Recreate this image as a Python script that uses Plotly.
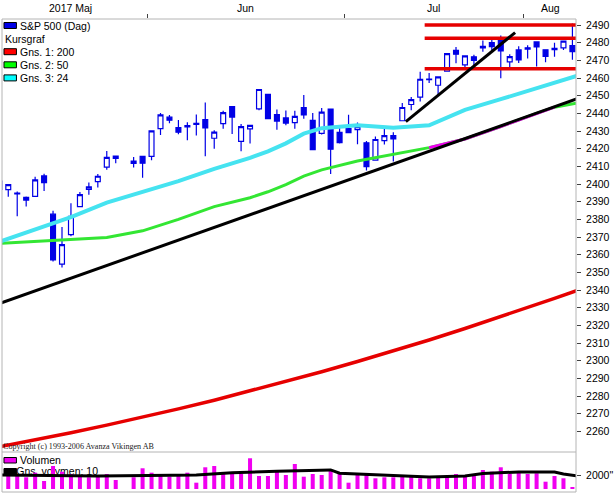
import pandas as pd
import plotly.graph_objects as go

# 交易日（7月4日休市不占位，5月29日占位但没有数据）
dates = pd.bdate_range("2017-05-09", "2017-08-08").drop(pd.Timestamp("2017-07-04"))
day = list(range(len(dates)))

# S&P 500 日K线
open_ = [2401.6, 2396.8, 2394.8, 2392.4, 2393.0, 2404.6, 2382.9, 2354.7, 2371.4, 2387.2, 2397.0, 2401.4, 2409.5, 2414.5, None, 2411.7, 2415.6,
         2415.6, 2431.3, 2437.8, 2431.9, 2432.3, 2434.3, 2436.4, 2425.9, 2434.2, 2443.8, 2424.1, 2431.2, 2442.5, 2450.7, 2439.3, 2437.4, 2434.7, 2443.3, 2436.0, 2428.7, 2442.4, 2429.2,
         2431.4, 2430.8, 2423.3, 2413.5, 2424.5, 2427.4, 2435.8, 2445.0, 2449.2, 2459.4, 2455.9, 2463.9, 2475.6, 2467.4, 2472.0, 2477.9, 2480.0, 2482.8, 2469.1, 2475.9,
         2477.1, 2480.4, 2476.0, 2476.1, 2477.1, 2478.4]
high = [2403.9, 2399.7, 2395.7, 2392.9, 2404.1, 2405.8, 2384.9, 2375.7, 2389.1, 2395.5, 2400.9, 2405.6, 2418.7, 2416.0, None, 2415.3, 2416.0,
        2430.1, 2440.2, 2439.0, 2436.2, 2435.0, 2439.3, 2446.2, 2430.4, 2441.5, 2443.8, 2434.0, 2433.2, 2453.8, 2450.7, 2442.2, 2441.6, 2441.4, 2450.4, 2440.2, 2443.0, 2442.7, 2432.7,
        2439.2, 2434.8, 2424.3, 2426.9, 2432.0, 2429.3, 2445.8, 2449.3, 2463.5, 2462.8, 2460.9, 2473.8, 2477.6, 2472.5, 2473.1, 2481.2, 2481.7, 2484.0, 2473.5, 2478.0,
        2478.5, 2480.4, 2476.0, 2480.0, 2481.0, 2490.9]
low = [2392.4, 2392.8, 2381.7, 2387.2, 2393.0, 2396.1, 2356.2, 2352.7, 2370.4, 2386.9, 2393.9, 2398.0, 2408.0, 2411.7, None, 2409.4, 2403.6,
       2413.5, 2427.7, 2434.4, 2428.1, 2424.8, 2427.4, 2415.7, 2420.0, 2431.3, 2428.3, 2418.5, 2422.9, 2441.8, 2436.6, 2430.7, 2433.3, 2431.3, 2437.0, 2419.4, 2428.0, 2405.7, 2422.9,
       2428.7, 2422.5, 2407.7, 2413.5, 2422.3, 2412.8, 2435.8, 2441.7, 2446.7, 2457.2, 2450.3, 2463.9, 2468.4, 2465.1, 2466.3, 2474.9, 2474.9, 2459.9, 2464.7, 2468.5,
       2471.1, 2466.5, 2468.9, 2472.1, 2475.9, 2470.3]
close = [2396.9, 2399.6, 2394.4, 2390.9, 2402.3, 2400.7, 2357.0, 2365.7, 2381.7, 2394.0, 2398.4, 2404.4, 2415.1, 2415.8, None, 2412.9, 2411.8,
         2430.1, 2439.1, 2436.1, 2429.3, 2433.1, 2433.8, 2431.8, 2429.4, 2440.4, 2437.9, 2432.5, 2433.2, 2453.5, 2437.0, 2435.6, 2434.5, 2438.3, 2439.1, 2419.4, 2440.7, 2419.7, 2423.4,
         2429.0, 2432.5, 2409.8, 2425.2, 2427.4, 2425.5, 2443.3, 2447.8, 2459.3, 2459.1, 2460.6, 2473.8, 2473.5, 2472.5, 2469.9, 2477.1, 2477.8, 2475.4, 2472.1, 2470.3,
         2476.4, 2477.6, 2472.2, 2476.8, 2480.9, 2474.9]
volume = [2145, 2145, 2145, 1673, 2331, 1144, 3289, 2474, 2145, 1759, 1673, 1759, 2145, 1287, None, 1673, 2960,
          2331, 2145, 1759, 2002, 2331, 901, 3103, 3289, 2331, 2331, 2145, 4390, 1859, 1859, 2474, 2002, 3575, 1759, 2145, 2002, 2717, 2145,
          901, 2145, 2145, 1530, 1673, 1673, 1859, 1859, 1530, 1530, 1673, 1859, 2145, 2002, 2145, 2717, 2474, 3103, 2145, 2474,
          2145, 2245, 1044, 1859, 1530, 243]

# 均线取样点（交易日序号）
ma_day = [0, 4, 8, 12, 16, 20, 24, 28, 30, 32, 34, 36, 40, 44, 48, 52, 56, 60, 62, 65]
ma200 = [2251.3, 2255.1, 2259.2, 2263.5, 2267.9, 2272.7, 2277.6, 2282.8, 2285.4, 2288.1, 2290.9, 2293.7,
         2299.5, 2305.5, 2311.7, 2318.2, 2324.9, 2331.7, 2335.3, 2340.6]
ma50 = [2366.4, 2367.4, 2368.4, 2369.7, 2373.5, 2380.0, 2387.2, 2392.2, 2395.6, 2399.7, 2404.5, 2408.0,
        2413.0, 2416.7, 2420.6, 2425.5, 2432.5, 2440.0, 2443.5, 2446.2]
ma24 = [2367.3, 2374.5, 2381.2, 2389.5, 2395.5, 2401.6, 2408.6, 2414.8, 2418.5, 2423.0, 2428.5, 2431.6,
        2433.3, 2431.9, 2433.2, 2442.0, 2448.0, 2454.0, 2457.4, 2462.0]

# 成交量10日均线
vol_ma_day = [0, 11, 22, 26, 31, 34, 37, 38, 41, 45, 48, 52, 54, 58, 62, 63, 65]
vol_ma10 = [2002, 1860, 2002, 2330, 2530, 2620, 2720, 2250, 2070, 1820, 1720, 1860, 2220, 2430, 2430, 2150, 1800]

# 手画的趋势线和水平线
trend_long_day = [0, 65]
trend_long = [2332.3, 2449.1]
trend_short_day = [45.4, 57.6]
trend_short = [2435.3, 2485.7]
level_day = [47.5, 65]
levels = [2490, 2482.5, 2465.3]

month_names = {5: "2017 Maj", 6: "Jun", 7: "Jul", 8: "Aug"}
y_ticks = list(range(2260, 2500, 10))

BLUE = '#0000e6'
RED = '#e60000'
GREEN = '#33e633'
CYAN = '#45e3f0'
MAGENTA = '#f000f0'
FONT = "Liberation Sans, Arial, sans-serif"

# 像素 -> paper 坐标（绘图区 x:2..579, y:19..492）
def px_x(px):
    return (px - 2) / 577

def px_y(py):
    return (492 - py) / 473

split = px_y(452)

fig = go.Figure()

fig.add_trace(go.Candlestick(
    x=day, open=open_, high=high, low=low, close=close,
    increasing=dict(line=dict(color=BLUE, width=1.2), fillcolor='white'),
    decreasing=dict(line=dict(color=BLUE, width=1.2), fillcolor=BLUE),
    whiskerwidth=0, showlegend=False, name='S&P 500'
))

fig.add_trace(go.Scatter(x=ma_day, y=ma200, mode='lines', line=dict(color=RED, width=3.5), showlegend=False))
fig.add_trace(go.Scatter(x=ma_day, y=ma50, mode='lines', line=dict(color=GREEN, width=3), showlegend=False))
mag_day = [d for d in ma_day if 48 <= d <= 62]
mag_val = [v for d, v in zip(ma_day, ma50) if 48 <= d <= 62]
fig.add_trace(go.Scatter(x=mag_day, y=mag_val, mode='lines', line=dict(color=MAGENTA, width=3), showlegend=False))
fig.add_trace(go.Scatter(x=ma_day, y=ma24, mode='lines', line=dict(color=CYAN, width=4), showlegend=False))

for lv in levels:
    fig.add_trace(go.Scatter(x=level_day, y=[lv, lv], mode='lines', line=dict(color=RED, width=3.5), showlegend=False))

fig.add_trace(go.Scatter(x=trend_long_day, y=trend_long, mode='lines', line=dict(color='black', width=3), showlegend=False))
fig.add_trace(go.Scatter(x=trend_short_day, y=trend_short, mode='lines', line=dict(color='black', width=3), showlegend=False))

# 成交量面板：文字放在底层子图，柱子画在上层覆盖
fig.add_trace(go.Scatter(x=[1.9], y=[px_y(472.5) / split], xaxis='x', yaxis='y2', mode='text',
                         text=['Gns. volymen: 10'], textposition='middle right',
                         textfont=dict(family=FONT, size=10.5, color='black'), showlegend=False))
fig.add_trace(go.Bar(x=day, y=volume, xaxis='x', yaxis='y3', width=0.45,
                     marker=dict(color=MAGENTA, line_width=0), showlegend=False))
fig.add_trace(go.Scatter(x=vol_ma_day, y=vol_ma10, xaxis='x', yaxis='y3', mode='lines',
                         line=dict(color='black', width=3), showlegend=False))

# 月份刻度：刻度线在月份交界处，文字在月份中间
month_of = [d.month for d in dates]
boundaries = [i - 0.5 for i in range(1, len(dates)) if month_of[i] != month_of[i - 1]]
annotations = []
for m, label in month_names.items():
    idx = [i for i, mm in enumerate(month_of) if mm == m]
    annotations.append(dict(x=(idx[0] + idx[-1]) / 2, y=px_y(7.5), xref='x', yref='paper', text=label,
                            showarrow=False, xanchor='center', yanchor='middle',
                            font=dict(family=FONT, size=10.5, color='black')))

# 图例
legend_main = [("S&P 500 (Dag)", BLUE), ("Kursgraf", None), ("Gns. 1: 200", '#ff0000'),
               ("Gns. 2: 50", '#00ff00'), ("Gns. 3: 24", '#00ffff')]
shapes = []
for k, (txt, col) in enumerate(legend_main):
    yc = 25.5 + 13.1 * k
    if col:
        shapes.append(dict(type='rect', xref='paper', yref='paper', x0=px_x(4), x1=px_x(16.5),
                           y0=px_y(yc + 3), y1=px_y(yc - 3), fillcolor=col, line=dict(color='black', width=1)))
    annotations.append(dict(x=px_x(19 if col else 4), y=px_y(yc), xref='paper', yref='paper', text=txt,
                            showarrow=False, xanchor='left', yanchor='middle', borderpad=0,
                            font=dict(family=FONT, size=10.5, color='black')))

shapes.append(dict(type='rect', xref='paper', yref='paper', x0=px_x(4), x1=px_x(16.5),
                   y0=px_y(463), y1=px_y(457.5), fillcolor=MAGENTA, line=dict(color='black', width=1)))
shapes.append(dict(type='rect', xref='paper', yref='paper', x0=px_x(4), x1=px_x(16.5), layer='below',
                   y0=px_y(474), y1=px_y(468.5), fillcolor='black', line=dict(color='black', width=1)))
annotations.append(dict(x=px_x(19), y=px_y(460), xref='paper', yref='paper', text='Volumen',
                        showarrow=False, xanchor='left', yanchor='middle', borderpad=0,
                        font=dict(family=FONT, size=10.5, color='black')))

annotations.append(dict(x=px_x(2.5), y=px_y(446), xref='paper', yref='paper',
                        text='Copyright (c) 1993-2006 Avanza Vikingen AB',
                        showarrow=False, xanchor='left', yanchor='middle', borderpad=0,
                        font=dict(family="Liberation Serif, Times New Roman, serif", size=8.1, color='#222222')))

# 边框
shapes.append(dict(type='rect', xref='paper', yref='paper', x0=0, x1=1, y0=0, y1=1,
                   line=dict(color='#b4b4b4', width=1)))
shapes.append(dict(type='line', xref='paper', yref='paper', x0=0, x1=1, y0=split, y1=split,
                   line=dict(color='#b4b4b4', width=1)))

tick_style = dict(ticks='outside', ticklen=4, tickcolor='#404040', tickwidth=1,
                  tickfont=dict(family=FONT, size=10.5, color='black'),
                  showgrid=False, zeroline=False, showline=False, ticklabelstandoff=3)

fig.update_layout(
    width=615, height=494,
    margin=dict(l=2, r=36, t=19, b=2),
    paper_bgcolor='white', plot_bgcolor='white',
    showlegend=False,
    boxgap=0.22,
    xaxis=dict(range=[0.3, 64.4], side='top', anchor='y', tickvals=boundaries, showticklabels=False,
               ticks='outside', ticklen=4, tickcolor='#404040', showgrid=False, zeroline=False,
               showline=False, rangeslider=dict(visible=False)),
    yaxis=dict(domain=[split, 1], range=[2248.3, 2493.4], side='right', anchor='x',
               tickvals=y_ticks, **tick_style),
    yaxis2=dict(domain=[0, split], range=[0, 1], anchor='x', visible=False),
    yaxis3=dict(overlaying='y2', range=[-429, 5286], side='right', anchor='x',
                tickvals=[2000], ticktext=['2000"'], **tick_style),
    shapes=shapes,
    annotations=annotations,
)

# 去掉页面默认边距，让图从左上角开始；不显示工具栏
fig.write_html("out.html", config={'displayModeBar': False},
               post_script="document.body.style.margin='0';")
